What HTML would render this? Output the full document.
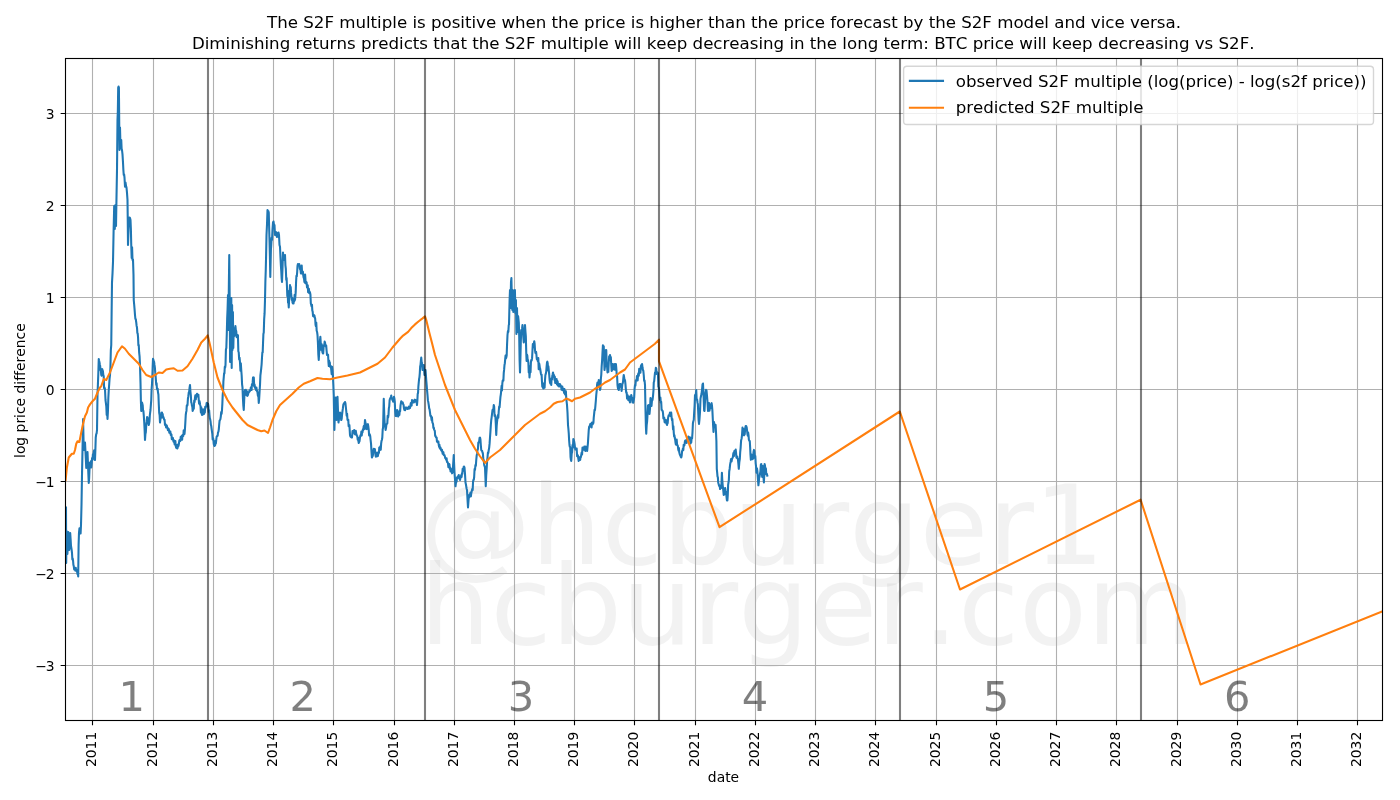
<!DOCTYPE html>
<html><head><meta charset="utf-8"><title>S2F multiple</title><style>html,body{margin:0;padding:0;background:#fff;width:1400px;height:800px;overflow:hidden}svg{display:block}text{font-kerning:none;font-feature-settings:"kern" 0,"liga" 0}</style></head><body>
<svg width="1400" height="800" viewBox="0 0 1400 800">
<defs><clipPath id="c"><rect x="65.50" y="58.50" width="1317.00" height="662.00"/></clipPath></defs>
<rect width="1400" height="800" fill="#fff"/>
<g clip-path="url(#c)" style="font-family:'DejaVu Sans','Liberation Sans',sans-serif;font-size:111.11px" fill="#808080" fill-opacity="0.1">
<text x="420.00" y="564.00">@hcburger1</text>
<text x="420.00" y="644.40">hcburger.com</text>
</g>
<path d="M92.50 58.50V720.50M153.50 58.50V720.50M213.50 58.50V720.50M273.50 58.50V720.50M333.50 58.50V720.50M394.50 58.50V720.50M454.50 58.50V720.50M514.50 58.50V720.50M574.50 58.50V720.50M634.50 58.50V720.50M695.50 58.50V720.50M755.50 58.50V720.50M815.50 58.50V720.50M875.50 58.50V720.50M936.50 58.50V720.50M996.50 58.50V720.50M1056.50 58.50V720.50M1116.50 58.50V720.50M1177.50 58.50V720.50M1237.50 58.50V720.50M1297.50 58.50V720.50M1357.50 58.50V720.50M65.50 665.50H1382.50M65.50 573.50H1382.50M65.50 481.50H1382.50M65.50 389.50H1382.50M65.50 297.50H1382.50M65.50 205.50H1382.50M65.50 113.50H1382.50" stroke="#b0b0b0" stroke-width="1.11" fill="none"/>
<g clip-path="url(#c)" fill="none" stroke-width="2.08" stroke-linejoin="round" stroke-linecap="square">
<polyline points="66.00,507.50 66.20,563.00 66.60,531.00 67.00,542.69 67.40,554.00 67.85,545.50 68.30,532.00 68.75,539.14 69.20,550.00 69.70,543.48 70.20,533.00 70.60,538.98 71.00,546.00 71.50,548.98 72.00,553.00 72.35,559.40 72.70,558.52 73.05,560.71 73.40,564.86 73.75,566.00 74.17,569.39 74.58,568.20 75.00,569.40 75.38,570.73 75.75,567.75 76.12,569.12 76.50,570.00 77.00,571.12 77.50,574.00 77.85,572.59 78.20,576.50 78.60,545.00 79.00,532.50 79.50,528.23 80.00,530.00 80.60,533.50 81.00,525.00 81.50,505.00 82.00,475.00 82.50,450.00 83.10,419.00 83.75,450.00 84.17,443.92 84.58,444.47 85.00,442.50 85.42,450.62 85.83,458.80 86.25,468.00 86.67,462.82 87.08,454.40 87.50,452.00 87.92,462.16 88.33,473.19 88.75,483.00 89.17,477.82 89.58,467.47 90.00,462.50 90.42,463.29 90.83,461.43 91.25,467.50 91.67,463.89 92.08,458.10 92.50,460.00 92.92,454.21 93.33,457.09 93.75,452.00 94.17,450.27 94.58,459.09 95.00,460.00 95.38,449.47 95.75,437.50 96.17,434.31 96.58,433.51 97.00,430.00 97.50,395.00 97.92,384.16 98.33,373.30 98.75,359.00 99.11,360.78 99.46,362.27 99.82,364.53 100.18,365.97 100.54,370.33 100.89,370.99 101.25,375.00 101.67,375.68 102.08,369.00 102.50,370.00 102.90,371.09 103.30,374.90 103.70,376.10 104.10,388.19 104.50,387.50 105.00,389.35 105.50,400.00 105.90,403.18 106.30,406.44 106.70,415.04 107.10,410.83 107.50,419.00 107.92,411.69 108.33,398.06 108.75,390.00 109.17,384.66 109.58,378.52 110.00,375.00 110.42,367.56 110.83,350.45 111.25,345.00 111.62,313.43 112.00,282.50 112.50,273.66 113.00,262.00 113.60,231.00 114.20,206.00 114.80,229.00 115.40,205.00 116.00,226.00 116.50,197.00 117.00,170.00 117.50,120.00 117.85,111.11 118.20,87.50 118.55,86.50 118.90,87.50 119.25,125.00 119.50,150.00 120.00,127.50 120.38,142.35 120.75,145.00 121.25,140.00 121.62,148.79 122.00,150.00 122.50,154.32 123.00,162.50 123.38,169.97 123.75,175.00 124.12,174.39 124.50,177.50 125.00,186.59 125.50,182.50 126.00,185.84 126.50,187.50 127.00,192.89 127.50,200.00 127.75,220.00 128.00,245.00 128.38,234.09 128.75,225.00 129.12,220.45 129.50,217.50 130.00,218.04 130.50,220.00 130.88,228.98 131.25,245.00 131.67,258.00 132.08,247.36 132.50,260.00 133.00,259.50 133.50,275.00 133.75,300.00 134.17,304.51 134.58,309.41 135.00,315.00 135.40,318.99 135.80,319.18 136.20,322.20 136.60,325.66 137.00,327.50 137.35,332.94 137.70,333.60 138.05,337.25 138.40,345.38 138.75,345.00 139.17,352.73 139.58,356.36 140.00,365.00 140.50,382.50 140.88,400.75 141.25,411.00 141.62,408.30 142.00,402.50 142.35,403.82 142.70,405.15 143.05,410.60 143.40,410.84 143.75,415.00 144.17,421.22 144.58,429.07 145.00,440.00 145.42,433.99 145.83,432.22 146.25,425.00 146.67,421.63 147.08,417.10 147.50,417.50 147.92,421.34 148.33,422.63 148.75,425.00 149.10,423.69 149.45,421.40 149.80,415.66 150.15,412.71 150.50,410.00 150.88,404.91 151.25,400.00 151.60,389.48 151.95,384.84 152.30,377.99 152.65,367.35 153.00,358.75 153.38,359.84 153.75,361.36 154.12,361.88 154.50,365.00 154.85,367.39 155.20,372.20 155.55,375.32 155.90,380.13 156.25,385.00 156.60,383.35 156.95,388.70 157.30,389.60 157.65,388.69 158.00,392.50 158.40,394.50 158.80,404.48 159.20,412.71 159.60,415.03 160.00,422.50 160.40,419.53 160.80,417.36 161.20,417.81 161.60,412.67 162.00,412.50 162.35,415.57 162.70,414.09 163.05,417.65 163.40,416.97 163.75,418.00 164.17,419.87 164.58,419.71 165.00,425.00 165.36,423.98 165.71,425.19 166.07,427.39 166.43,426.92 166.79,425.39 167.14,427.96 167.50,427.50 167.86,430.19 168.21,428.63 168.57,428.76 168.93,429.57 169.29,432.69 169.64,432.86 170.00,432.50 170.36,431.50 170.71,434.96 171.07,434.11 171.43,434.43 171.79,439.26 172.14,439.29 172.50,438.50 172.86,437.80 173.21,440.16 173.57,441.75 173.93,440.22 174.29,442.01 174.64,444.33 175.00,443.75 175.37,440.96 175.73,445.99 176.10,447.60 176.47,447.93 176.83,445.03 177.20,448.50 177.55,448.07 177.90,444.65 178.25,446.45 178.60,445.46 178.95,443.62 179.30,440.59 179.65,439.88 180.00,440.00 180.36,440.99 180.71,436.77 181.07,438.85 181.43,438.17 181.79,435.87 182.14,439.71 182.50,435.00 182.90,434.94 183.30,436.00 183.70,430.40 184.10,430.20 184.50,434.00 184.92,429.63 185.33,422.61 185.75,415.00 186.10,412.38 186.45,410.89 186.80,405.19 187.15,405.74 187.50,405.00 187.92,398.77 188.33,396.22 188.75,392.50 189.17,391.77 189.58,387.61 190.00,385.00 190.42,391.58 190.83,395.27 191.25,402.50 191.60,403.13 191.95,405.72 192.30,406.44 192.65,411.00 193.00,410.00 193.40,405.75 193.80,408.78 194.20,400.54 194.60,402.12 195.00,397.50 195.40,395.20 195.80,399.30 196.20,395.52 196.60,395.30 197.00,393.75 197.35,396.49 197.70,394.98 198.05,395.42 198.40,394.75 198.75,400.00 199.10,403.69 199.45,401.11 199.80,402.57 200.15,404.94 200.50,406.25 200.88,412.42 201.25,407.17 201.62,413.31 202.00,415.00 202.36,413.49 202.71,414.64 203.07,409.26 203.43,411.35 203.79,413.11 204.14,413.83 204.50,410.00 204.85,412.44 205.20,406.79 205.55,407.86 205.90,406.78 206.25,406.25 206.60,403.00 206.95,402.75 207.30,406.26 207.65,404.74 208.00,403.75 208.38,406.28 208.75,411.81 209.12,410.18 209.50,415.00 209.85,418.25 210.20,419.42 210.55,421.48 210.90,424.78 211.25,426.00 211.60,428.75 211.95,431.33 212.30,433.73 212.65,439.48 213.00,438.00 213.38,439.38 213.75,444.02 214.12,445.22 214.50,446.00 214.85,444.10 215.20,445.19 215.55,440.68 215.90,443.52 216.25,440.00 216.60,436.88 216.95,436.02 217.30,436.15 217.65,435.66 218.00,432.50 218.40,431.81 218.80,429.29 219.20,424.59 219.60,420.59 220.00,420.00 220.40,419.10 220.80,416.60 221.20,412.09 221.60,413.95 222.00,410.00 222.35,403.90 222.70,395.08 223.05,391.38 223.40,381.35 223.75,377.50 224.10,373.25 224.45,373.30 224.80,366.88 225.15,367.65 225.50,365.00 225.92,349.60 226.33,347.95 226.75,335.00 227.17,318.76 227.58,309.06 228.00,295.00 228.40,330.00 228.80,290.00 229.25,255.00 229.70,300.00 230.10,362.00 230.50,300.00 230.90,345.00 231.30,298.00 231.70,368.00 232.10,305.00 232.50,350.00 232.90,312.00 233.30,348.00 233.75,328.00 234.40,336.00 235.00,332.50 235.42,326.07 235.83,330.29 236.25,331.25 236.67,337.12 237.08,337.25 237.50,337.50 237.92,335.15 238.33,351.20 238.75,352.50 239.17,359.40 239.58,357.66 240.00,362.50 240.42,370.67 240.83,363.26 241.25,370.00 241.67,375.49 242.08,384.34 242.50,387.50 242.92,398.14 243.33,405.57 243.75,410.00 244.17,400.71 244.58,392.39 245.00,390.00 245.42,392.61 245.83,389.90 246.25,395.00 246.61,394.33 246.96,391.21 247.32,396.00 247.68,395.50 248.04,394.55 248.39,392.90 248.75,392.50 249.11,391.90 249.46,390.36 249.82,391.28 250.18,390.24 250.54,390.03 250.89,387.19 251.25,387.50 251.60,390.06 251.95,384.18 252.30,384.85 252.65,382.69 253.00,377.50 253.40,377.39 253.80,377.45 254.20,386.52 254.60,384.57 255.00,387.50 255.36,388.41 255.71,388.31 256.07,389.96 256.43,387.50 256.79,390.82 257.14,390.67 257.50,392.50 257.92,395.96 258.33,394.70 258.75,403.00 259.17,398.97 259.58,391.80 260.00,385.00 260.40,375.36 260.80,372.24 261.20,368.57 261.60,364.51 262.00,357.50 262.35,352.50 262.70,352.34 263.05,342.58 263.40,334.00 263.75,332.50 264.17,319.30 264.58,313.44 265.00,300.00 265.38,281.60 265.75,270.44 266.12,254.82 266.50,235.00 267.00,224.56 267.50,210.00 267.92,214.39 268.33,211.06 268.75,212.50 269.12,226.22 269.50,240.00 269.90,256.43 270.30,277.00 270.90,250.00 271.27,244.53 271.63,237.86 272.00,240.00 272.50,229.31 273.00,222.50 273.50,221.50 274.00,225.00 274.50,225.00 275.00,235.00 275.38,234.81 275.75,235.11 276.12,232.10 276.50,232.50 276.88,236.92 277.25,235.95 277.62,236.57 278.00,233.75 278.50,232.56 279.00,235.00 279.50,245.00 280.00,246.77 280.50,257.50 280.88,265.30 281.25,270.67 281.62,278.05 282.00,282.00 282.50,268.50 283.00,252.50 283.50,260.03 284.00,260.00 284.50,256.64 285.00,255.00 285.42,265.34 285.83,268.98 286.25,280.00 286.61,277.93 286.96,286.52 287.32,296.28 287.68,290.69 288.04,302.69 288.39,301.53 288.75,307.50 289.17,298.80 289.58,292.63 290.00,285.00 290.36,288.14 290.71,287.08 291.07,292.88 291.43,296.33 291.79,300.00 292.14,297.74 292.50,302.50 292.86,303.50 293.21,303.50 293.57,303.50 293.93,299.00 294.29,301.23 294.64,294.78 295.00,300.00 295.36,296.28 295.71,291.95 296.07,281.98 296.43,275.81 296.79,276.28 297.14,272.74 297.50,266.00 297.92,264.00 298.33,264.55 298.75,265.00 299.10,264.00 299.45,264.88 299.80,268.44 300.15,269.46 300.50,270.00 300.90,273.50 301.30,267.58 301.70,265.50 302.10,273.36 302.50,272.50 302.88,271.73 303.25,275.36 303.62,277.66 304.00,278.30 304.38,281.83 304.75,282.56 305.12,274.51 305.50,280.31 305.88,283.50 306.25,282.50 306.62,282.28 307.00,287.40 307.38,285.33 307.75,285.24 308.12,292.25 308.50,291.63 308.88,288.77 309.25,293.22 309.62,291.50 310.00,292.50 310.42,294.49 310.83,303.54 311.25,305.00 311.61,306.55 311.96,304.67 312.32,310.64 312.68,311.70 313.04,316.00 313.39,316.44 313.75,315.00 314.11,315.24 314.46,315.69 314.82,317.80 315.18,318.60 315.54,324.74 315.89,326.19 316.25,322.50 316.67,330.74 317.08,331.97 317.50,335.00 317.92,342.60 318.33,354.38 318.75,360.00 319.17,352.29 319.58,347.38 320.00,340.00 320.36,336.79 320.71,342.30 321.07,349.68 321.43,344.06 321.79,344.45 322.14,350.22 322.50,352.50 322.86,353.50 323.21,353.50 323.57,347.14 323.93,345.35 324.29,345.03 324.64,341.50 325.00,342.50 325.40,345.11 325.80,346.60 326.20,345.57 326.60,350.76 327.00,355.00 327.36,355.30 327.71,354.56 328.07,354.86 328.43,362.00 328.79,366.04 329.14,360.57 329.50,362.50 329.85,362.73 330.20,367.01 330.55,366.31 330.90,366.15 331.25,370.00 331.67,374.18 332.08,366.88 332.50,370.00 332.92,376.14 333.33,384.67 333.75,395.00 334.40,430.00 334.80,416.51 335.20,407.62 335.60,397.50 336.05,410.48 336.50,420.00 337.00,412.77 337.50,396.90 338.00,411.69 338.50,422.50 338.88,420.11 339.25,413.75 339.62,414.82 340.00,412.50 340.42,413.12 340.83,417.30 341.25,420.00 341.67,418.96 342.08,414.41 342.50,411.00 342.92,408.16 343.33,404.66 343.75,403.75 344.17,403.12 344.58,402.80 345.00,402.00 345.42,403.14 345.83,406.99 346.25,411.00 346.67,415.76 347.08,413.68 347.50,420.00 347.88,420.11 348.26,419.67 348.64,426.09 349.02,425.21 349.40,425.00 350.00,435.00 350.40,436.53 350.80,436.79 351.20,437.07 351.60,437.58 352.00,437.50 352.50,431.08 353.00,431.00 353.40,431.82 353.80,432.79 354.20,430.00 354.60,433.85 355.00,432.50 355.40,434.53 355.80,430.86 356.20,433.66 356.60,434.69 357.00,436.00 357.35,436.35 357.70,439.58 358.05,437.65 358.40,441.15 358.75,443.00 359.12,441.85 359.49,441.25 359.86,438.30 360.23,436.12 360.60,435.00 360.98,435.88 361.36,431.50 361.74,435.37 362.12,432.38 362.50,432.50 362.88,429.30 363.26,430.24 363.64,426.73 364.02,425.70 364.40,429.00 365.00,420.00 365.42,422.35 365.83,424.44 366.25,429.00 366.67,429.13 367.08,424.56 367.50,425.00 367.92,424.08 368.33,426.42 368.75,430.00 369.12,435.43 369.49,434.05 369.86,434.78 370.23,436.02 370.60,440.00 371.03,443.64 371.47,451.34 371.90,457.50 372.27,456.60 372.64,456.30 373.01,454.54 373.38,451.04 373.75,448.75 374.12,448.88 374.49,449.93 374.86,449.10 375.23,452.51 375.60,456.00 375.98,456.64 376.36,454.92 376.74,456.14 377.12,452.50 377.50,455.00 377.86,456.08 378.21,454.16 378.57,452.94 378.93,452.94 379.29,447.43 379.64,449.60 380.00,450.00 380.38,446.21 380.76,449.62 381.14,443.63 381.52,440.99 381.90,440.00 382.30,437.54 382.70,429.56 383.10,427.50 383.75,398.75 384.25,414.72 384.75,425.00 385.18,426.09 385.60,430.00 386.03,427.88 386.47,424.17 386.90,424.00 387.30,423.45 387.70,415.67 388.10,417.50 388.48,415.13 388.86,408.36 389.24,406.35 389.62,400.20 390.00,398.75 390.42,398.16 390.83,397.02 391.25,395.60 391.62,397.88 392.00,398.43 392.38,400.15 392.75,400.00 393.16,401.67 393.57,398.60 393.99,396.70 394.40,398.75 394.80,401.94 395.20,411.61 395.60,416.00 395.98,414.25 396.36,416.10 396.74,413.09 397.12,409.98 397.50,411.00 397.88,413.61 398.26,416.49 398.64,413.04 399.02,412.32 399.40,415.00 399.77,410.56 400.14,411.28 400.51,405.58 400.88,403.19 401.25,401.25 401.62,403.17 401.99,402.37 402.36,403.13 402.73,402.36 403.10,404.00 403.53,404.72 403.97,408.33 404.40,410.00 404.77,409.81 405.14,410.18 405.51,407.50 405.88,408.69 406.25,407.50 406.62,408.50 407.00,407.77 407.38,408.79 407.75,409.00 408.12,408.15 408.50,407.96 408.88,406.50 409.25,408.56 409.62,407.76 410.00,408.00 410.40,405.78 410.80,403.15 411.20,404.35 411.60,405.60 412.00,400.00 412.35,401.37 412.70,401.17 413.05,402.37 413.40,400.82 413.75,402.50 414.10,402.19 414.45,400.18 414.80,399.72 415.15,400.96 415.50,400.00 415.88,401.71 416.25,402.28 416.62,402.16 417.00,405.00 417.35,401.03 417.70,393.82 418.05,393.04 418.40,386.31 418.75,382.50 419.10,379.00 419.45,377.07 419.80,373.11 420.15,366.56 420.50,365.00 420.88,360.88 421.25,357.50 421.67,362.22 422.08,364.20 422.50,370.00 422.92,365.33 423.33,366.56 423.75,365.00 424.12,369.93 424.50,375.00 425.00,373.14 425.50,370.00 425.88,375.12 426.25,380.00 426.67,385.20 427.08,390.36 427.50,395.00 427.92,400.40 428.33,402.39 428.75,405.00 429.17,408.31 429.58,409.41 430.00,412.50 430.42,415.85 430.83,415.55 431.25,417.50 431.61,420.04 431.96,417.36 432.32,422.15 432.68,423.07 433.04,423.95 433.39,428.00 433.75,427.50 434.11,429.54 434.46,430.15 434.82,431.00 435.18,436.03 435.54,435.76 435.89,437.06 436.25,437.50 436.61,437.43 436.96,441.60 437.32,441.55 437.68,441.38 438.04,442.70 438.39,441.49 438.75,445.00 439.11,446.69 439.46,444.79 439.82,448.41 440.18,447.20 440.54,447.64 440.89,449.84 441.25,450.00 441.61,451.03 441.96,449.74 442.32,452.03 442.68,453.77 443.04,453.20 443.39,452.27 443.75,455.00 444.11,455.35 444.46,454.99 444.82,456.28 445.18,457.93 445.54,458.49 445.89,458.97 446.25,460.00 446.61,458.24 446.96,461.95 447.32,461.84 447.68,462.25 448.04,463.80 448.39,467.17 448.75,465.00 449.11,463.97 449.46,464.38 449.82,468.82 450.18,467.39 450.54,471.41 450.89,468.89 451.25,471.25 451.67,470.94 452.08,473.33 452.50,472.50 452.92,468.03 453.33,461.50 453.75,455.00 454.12,464.43 454.50,472.50 455.00,479.18 455.50,486.25 455.88,483.40 456.25,481.57 456.62,481.58 457.00,477.50 457.35,478.06 457.70,476.53 458.05,476.47 458.40,476.74 458.75,475.00 459.17,478.43 459.58,478.14 460.00,480.00 460.42,478.22 460.83,477.16 461.25,475.00 461.60,477.00 461.95,473.36 462.30,473.89 462.65,468.71 463.00,470.00 463.38,470.64 463.75,466.65 464.12,466.51 464.50,467.50 465.00,474.06 465.50,482.50 465.88,484.16 466.25,486.52 466.62,488.67 467.00,490.00 467.50,499.08 468.00,507.50 468.50,500.60 469.00,495.00 469.38,497.38 469.75,494.34 470.12,494.58 470.50,492.50 470.88,496.27 471.25,493.36 471.62,491.89 472.00,490.00 472.35,488.70 472.70,490.08 473.05,481.64 473.40,479.91 473.75,480.00 474.17,476.99 474.58,468.93 475.00,470.00 475.42,464.97 475.83,465.80 476.25,460.00 476.67,455.66 477.08,453.69 477.50,450.00 477.92,449.01 478.33,442.46 478.75,442.50 479.17,441.43 479.58,437.79 480.00,437.50 480.42,439.28 480.83,445.23 481.25,450.00 481.67,450.71 482.08,450.79 482.50,452.50 482.92,453.56 483.33,459.58 483.75,460.00 484.17,465.01 484.58,466.21 485.00,467.50 485.38,476.66 485.75,486.25 486.25,474.58 486.75,467.50 487.12,460.71 487.50,457.50 487.92,452.59 488.33,452.96 488.75,450.00 489.17,447.83 489.58,443.65 490.00,437.50 490.42,431.61 490.83,425.00 491.25,420.00 491.67,417.06 492.08,413.60 492.50,410.00 492.92,409.63 493.33,409.88 493.75,405.00 494.17,406.84 494.58,416.07 495.00,415.00 495.42,417.27 495.83,424.45 496.25,435.00 496.67,426.03 497.08,421.43 497.50,418.00 497.92,415.16 498.33,417.73 498.75,411.00 499.17,406.48 499.58,407.41 500.00,402.00 500.42,397.21 500.83,394.33 501.25,390.00 501.60,385.78 501.95,390.40 502.30,383.92 502.65,380.66 503.00,380.00 503.38,380.65 503.75,372.89 504.12,369.66 504.50,365.00 504.85,363.18 505.20,359.12 505.55,355.54 505.90,358.39 506.25,357.50 506.67,355.60 507.08,343.96 507.50,335.00 507.92,331.06 508.33,332.01 508.75,325.00 509.00,325.00 509.60,300.00 510.00,290.00 510.50,308.00 511.00,282.00 511.40,278.00 511.90,300.00 512.30,310.00 512.80,290.00 513.30,312.00 513.80,296.00 514.40,311.00 514.90,290.00 515.40,313.00 515.90,300.00 516.40,334.00 517.00,308.00 517.50,332.00 518.10,316.00 518.80,322.50 519.20,335.93 519.60,360.60 520.00,372.50 520.42,358.28 520.83,341.29 521.25,330.00 521.67,330.68 522.08,328.45 522.50,325.00 522.92,329.64 523.33,337.41 523.75,342.50 524.17,340.06 524.58,335.71 525.00,325.00 525.42,331.23 525.83,336.33 526.25,352.50 526.60,361.00 526.95,354.59 527.30,355.55 527.65,359.99 528.00,360.00 528.38,362.89 528.75,372.36 529.12,368.81 529.50,377.50 529.85,373.29 530.20,366.14 530.55,372.29 530.90,362.64 531.25,360.00 531.67,360.48 532.08,358.14 532.50,350.00 532.85,344.11 533.20,345.73 533.55,347.24 533.90,343.17 534.25,341.25 534.62,343.60 535.00,349.79 535.38,352.85 535.75,352.50 536.10,351.95 536.45,355.03 536.80,359.25 537.15,359.23 537.50,360.00 537.90,361.49 538.30,358.11 538.70,369.09 539.10,363.20 539.50,365.00 539.85,367.93 540.20,368.88 540.55,371.23 540.90,373.52 541.25,375.00 541.60,374.60 541.95,381.31 542.30,386.67 542.65,386.39 543.00,387.50 543.40,388.50 543.80,386.18 544.20,383.11 544.60,387.80 545.00,380.00 545.40,375.01 545.80,373.84 546.20,371.74 546.60,366.64 547.00,362.50 547.35,361.70 547.70,363.13 548.05,370.41 548.40,366.41 548.75,370.00 549.17,374.19 549.58,379.52 550.00,382.50 550.42,383.54 550.83,380.29 551.25,385.00 551.60,378.36 551.95,379.77 552.30,375.81 552.65,374.43 553.00,372.50 553.38,374.57 553.75,376.61 554.12,375.21 554.50,380.00 554.85,376.83 555.20,383.05 555.55,380.13 555.90,379.44 556.25,382.50 556.61,379.00 556.96,384.38 557.32,380.82 557.68,381.64 558.04,385.65 558.39,385.31 558.75,385.00 559.11,386.59 559.46,384.00 559.82,384.00 560.18,384.27 560.54,386.13 560.89,385.70 561.25,387.50 561.61,389.80 561.96,389.00 562.32,386.50 562.68,390.17 563.04,388.96 563.39,388.58 563.75,390.00 564.10,392.95 564.45,389.00 564.80,393.76 565.15,394.39 565.50,392.50 565.88,391.23 566.25,398.33 566.62,401.52 567.00,405.00 567.50,412.52 568.00,425.00 568.38,428.75 568.75,433.22 569.12,440.14 569.50,445.00 569.85,446.98 570.20,447.00 570.55,457.22 570.90,459.76 571.25,461.00 571.67,453.84 572.08,452.25 572.50,445.00 572.92,447.73 573.33,439.00 573.75,440.00 574.17,441.60 574.58,443.86 575.00,447.50 575.42,449.56 575.83,448.50 576.25,450.00 576.67,448.60 577.08,456.10 577.50,455.00 577.90,455.29 578.30,458.60 578.70,461.00 579.10,457.37 579.50,460.00 579.85,458.10 580.20,460.00 580.55,456.77 580.90,457.14 581.25,455.00 581.67,452.49 582.08,454.40 582.50,447.50 582.86,449.25 583.21,448.97 583.57,448.85 583.93,449.78 584.29,446.50 584.64,449.05 585.00,450.00 585.36,451.00 585.71,446.64 586.07,449.02 586.43,448.36 586.79,447.09 587.14,451.00 587.50,447.50 587.92,443.24 588.33,436.57 588.75,430.00 589.17,426.61 589.58,426.85 590.00,425.00 590.40,423.84 590.80,423.80 591.20,423.99 591.60,427.40 592.00,422.50 592.35,424.45 592.70,424.26 593.05,422.52 593.40,422.90 593.75,417.50 594.17,413.55 594.58,409.68 595.00,410.00 595.42,405.63 595.83,400.78 596.25,395.00 596.67,390.94 597.08,384.80 597.50,382.50 597.92,383.73 598.33,386.02 598.75,380.00 599.17,384.00 599.58,385.99 600.00,390.00 600.42,388.60 600.83,379.09 601.25,375.00 601.67,366.44 602.08,360.96 602.50,352.50 602.92,345.25 603.33,354.00 603.75,346.25 604.12,357.82 604.50,370.00 604.85,367.56 605.20,362.96 605.55,359.24 605.90,350.00 606.25,350.00 606.67,362.83 607.08,366.73 607.50,372.50 607.92,370.08 608.33,371.83 608.75,362.50 609.17,356.21 609.58,359.74 610.00,355.00 610.42,358.05 610.83,357.18 611.25,365.00 611.67,371.00 612.08,363.68 612.50,370.00 612.90,369.44 613.30,367.76 613.70,367.57 614.10,364.00 614.50,365.00 614.85,369.61 615.20,366.78 615.55,364.00 615.90,364.00 616.25,367.50 616.67,374.17 617.08,375.70 617.50,385.00 617.92,387.98 618.33,389.33 618.75,390.00 619.17,386.59 619.58,384.00 620.00,385.00 620.40,384.00 620.80,386.80 621.20,385.37 621.60,391.00 622.00,387.50 622.35,384.04 622.70,383.35 623.05,381.50 623.40,377.71 623.75,375.00 624.17,377.36 624.58,380.57 625.00,380.00 625.42,383.86 625.83,389.09 626.25,392.50 626.67,392.55 627.08,398.57 627.50,395.00 627.92,397.05 628.33,400.19 628.75,400.00 629.17,396.43 629.58,400.61 630.00,402.50 630.42,397.53 630.83,397.60 631.25,395.00 631.67,396.54 632.08,397.70 632.50,402.50 632.92,401.07 633.33,402.64 633.75,400.00 634.17,397.37 634.58,388.84 635.00,385.00 635.42,385.68 635.83,380.32 636.25,380.00 636.60,380.37 636.95,376.12 637.30,379.32 637.65,380.40 638.00,375.00 638.40,373.37 638.80,375.71 639.20,368.82 639.60,369.62 640.00,370.00 640.42,372.73 640.83,366.53 641.25,365.00 641.67,366.95 642.08,364.00 642.50,367.50 642.92,369.98 643.33,370.79 643.75,375.00 644.17,381.00 644.58,380.51 645.00,385.00 645.50,410.00 645.88,426.27 646.25,433.75 646.67,425.10 647.08,421.98 647.50,415.00 648.00,405.60 648.50,405.00 649.00,408.62 649.50,414.00 650.00,408.69 650.50,398.00 651.00,401.77 651.50,406.00 652.00,400.15 652.50,400.00 653.00,396.10 653.50,390.00 653.75,382.50 654.17,381.27 654.58,376.81 655.00,372.50 655.42,373.44 655.83,367.75 656.25,368.75 656.67,374.02 657.08,372.82 657.50,372.50 657.92,373.10 658.33,386.63 658.75,387.50 659.17,390.64 659.58,396.97 660.00,400.00 660.40,397.65 660.80,402.62 661.20,401.99 661.60,409.86 662.00,410.00 662.35,411.00 662.70,410.98 663.05,413.68 663.40,418.48 663.75,417.50 664.17,417.46 664.58,422.09 665.00,422.50 665.40,420.40 665.80,419.84 666.20,422.93 666.60,423.87 667.00,425.00 667.35,423.40 667.70,423.08 668.05,418.09 668.40,416.20 668.75,415.00 669.17,415.85 669.58,414.28 670.00,412.50 670.40,413.89 670.80,416.03 671.20,412.60 671.60,417.30 672.00,420.00 672.35,418.99 672.70,424.23 673.05,429.48 673.40,426.30 673.75,432.50 674.10,436.53 674.45,435.27 674.80,438.04 675.15,439.48 675.50,442.50 675.90,444.56 676.30,442.03 676.70,439.60 677.10,445.21 677.50,445.00 677.86,446.10 678.21,449.25 678.57,450.61 678.93,448.05 679.29,452.59 679.64,453.84 680.00,455.00 680.42,455.67 680.83,456.88 681.25,457.50 681.67,455.69 682.08,451.28 682.50,450.00 682.90,448.67 683.30,450.16 683.70,444.67 684.10,445.83 684.50,445.00 684.85,441.77 685.20,440.66 685.55,441.08 685.90,441.39 686.25,440.00 686.61,442.99 686.96,438.84 687.32,440.98 687.68,439.76 688.04,438.37 688.39,436.50 688.75,437.50 689.11,438.49 689.46,439.05 689.82,437.36 690.18,440.73 690.54,443.50 690.89,438.56 691.25,442.50 691.67,437.74 692.08,438.38 692.50,432.50 692.92,423.29 693.33,421.27 693.75,420.00 694.17,412.50 694.58,406.00 695.00,395.00 695.42,396.74 695.83,393.78 696.25,390.00 696.67,399.77 697.08,399.42 697.50,402.50 697.88,404.26 698.25,412.71 698.62,420.38 699.00,424.00 699.50,419.04 700.00,412.00 700.50,398.58 701.00,396.00 701.50,394.08 702.00,390.00 702.50,384.53 703.00,383.50 703.40,392.19 703.80,402.00 704.15,410.59 704.50,411.00 705.00,401.54 705.50,393.00 706.00,389.90 706.50,390.50 707.00,395.92 707.50,402.00 708.00,411.00 708.50,405.20 709.00,403.00 709.50,410.60 710.00,407.00 710.40,408.31 710.80,407.56 711.20,404.00 711.60,403.09 712.00,406.00 712.40,410.71 712.80,419.00 713.15,426.22 713.50,432.00 713.85,421.90 714.20,423.00 714.70,426.87 715.20,425.00 715.60,424.92 716.00,432.00 716.40,441.00 716.80,468.80 717.15,472.47 717.50,476.46 717.85,477.18 718.20,482.50 718.67,484.28 719.13,486.04 719.60,485.30 720.07,489.00 720.53,488.04 721.00,488.00 721.45,484.81 721.90,472.90 722.30,480.22 722.70,485.30 723.20,489.64 723.70,494.90 724.17,494.67 724.63,489.05 725.10,488.00 725.55,490.47 726.00,492.20 726.47,496.43 726.93,500.41 727.40,500.40 727.77,495.10 728.13,484.96 728.50,482.50 728.85,480.11 729.20,471.50 729.67,468.71 730.13,464.39 730.60,461.90 731.07,459.03 731.53,461.42 732.00,459.10 732.43,458.07 732.87,457.07 733.30,453.60 733.65,452.62 734.00,455.93 734.35,450.95 734.70,450.90 735.20,451.18 735.70,449.50 736.07,452.75 736.43,457.58 736.80,457.80 737.17,456.58 737.53,457.95 737.90,459.10 738.35,463.43 738.80,468.80 739.30,462.36 739.80,459.10 740.20,452.03 740.60,448.10 741.10,440.41 741.60,438.50 742.05,434.80 742.50,427.50 742.87,432.91 743.23,428.81 743.60,433.00 743.97,435.31 744.33,431.17 744.70,434.40 745.20,428.30 745.70,426.10 746.20,426.04 746.70,427.50 747.07,430.56 747.43,434.12 747.80,435.80 748.17,432.54 748.53,435.38 748.90,439.90 749.35,440.79 749.80,441.30 750.15,447.56 750.50,455.00 750.87,459.80 751.23,454.33 751.60,455.00 752.10,455.49 752.60,459.10 753.05,458.59 753.50,452.30 753.95,449.90 754.40,450.90 754.90,457.80 755.30,456.07 755.70,463.30 756.00,466.00 756.47,472.63 756.93,468.17 757.40,471.50 757.90,478.56 758.40,485.30 758.77,482.08 759.13,477.63 759.50,477.00 759.95,473.90 760.40,471.50 760.85,464.59 761.30,464.00 761.75,472.79 762.20,477.00 762.90,466.00 763.40,476.09 763.90,482.50 764.25,474.87 764.60,464.00 765.00,465.55 765.40,471.50 765.85,468.26 766.30,474.30 766.80,473.78 767.30,475.60" stroke="#1f77b4"/>
<polyline points="65.60,480.00 66.90,467.50 68.75,457.50 70.00,456.00 71.90,453.75 73.75,453.75 75.00,450.00 76.25,443.75 77.50,441.25 79.40,442.00 81.25,432.50 83.10,423.75 85.00,416.25 86.90,412.50 88.10,407.50 90.00,404.40 92.50,401.25 95.00,398.75 97.50,392.50 100.00,387.50 101.25,386.25 103.75,379.00 106.25,380.00 110.00,372.50 113.75,362.50 117.50,352.50 122.00,346.25 125.00,348.75 128.75,353.75 133.75,358.75 138.75,363.75 142.50,370.00 146.25,375.00 151.25,377.00 155.00,375.00 158.75,372.50 162.50,373.00 166.25,369.50 170.00,368.75 173.75,368.25 177.50,370.75 182.50,370.50 187.50,366.25 192.50,358.75 197.50,350.00 201.25,342.50 205.00,338.75 207.70,335.30 210.00,345.00 213.75,362.50 217.50,377.50 222.50,390.00 227.50,400.00 232.50,407.50 237.50,413.75 242.50,420.00 247.50,425.00 252.50,427.50 257.50,430.00 261.25,431.25 264.50,430.50 268.00,433.00 270.00,427.50 272.50,420.00 276.25,411.25 280.00,405.00 285.00,400.50 292.50,393.75 298.75,387.50 303.75,383.75 310.00,381.25 317.50,378.00 322.50,378.75 330.00,379.25 337.50,377.50 347.50,375.50 360.00,372.50 370.00,367.50 377.50,363.75 385.00,357.50 392.50,347.50 400.00,338.75 403.10,335.60 408.10,331.90 411.25,328.10 415.00,324.40 418.75,321.25 422.50,318.40 425.00,316.40 426.25,320.00 429.40,333.10 432.00,343.00 435.00,355.00 440.00,370.00 445.00,385.00 450.00,397.50 455.00,410.00 460.00,420.00 465.00,430.00 470.00,440.00 475.00,448.75 480.00,456.25 485.00,463.00 490.00,457.50 495.00,453.75 500.00,450.00 505.00,445.00 510.00,440.00 515.00,435.00 520.00,430.00 525.00,425.00 530.00,421.25 535.00,417.50 540.00,413.75 545.00,411.25 550.00,407.50 553.75,403.75 557.50,402.00 562.50,401.25 566.25,398.50 568.75,399.50 572.00,401.25 575.00,398.75 580.00,397.50 585.00,395.00 590.00,392.50 595.00,388.75 600.00,386.25 605.00,382.50 610.00,380.00 615.00,376.25 620.00,372.50 625.00,369.50 630.00,362.50 635.00,358.75 640.00,355.00 645.00,351.25 650.00,347.50 655.00,343.75 659.00,339.60 659.00,361.30 719.50,527.20 899.80,411.50 960.00,589.50 1140.60,499.70 1200.50,684.50 1390.00,608.20" stroke="#ff7f0e"/>
</g>
<path d="M208.00 58.50V720.50M425.00 58.50V720.50M659.00 58.50V720.50M900.00 58.50V720.50M1141.00 58.50V720.50" stroke="#000" stroke-opacity="0.5" stroke-width="2.08" fill="none"/>
<g style="font-family:'DejaVu Sans','Liberation Sans',sans-serif;font-size:41.67px" fill="#000" fill-opacity="0.5" text-anchor="middle">
<text x="131.65" y="710.90">1</text>
<text x="302.65" y="710.90">2</text>
<text x="521.10" y="710.90">3</text>
<text x="755.05" y="710.90">4</text>
<text x="996.05" y="710.90">5</text>
<text x="1237.35" y="710.90">6</text>
</g>
<rect x="65.50" y="58.50" width="1317.00" height="662.00" fill="none" stroke="#000" stroke-width="1.11" stroke-linejoin="miter"/>
<path d="M92.50 720.50v4.86M153.50 720.50v4.86M213.50 720.50v4.86M273.50 720.50v4.86M333.50 720.50v4.86M394.50 720.50v4.86M454.50 720.50v4.86M514.50 720.50v4.86M574.50 720.50v4.86M634.50 720.50v4.86M695.50 720.50v4.86M755.50 720.50v4.86M815.50 720.50v4.86M875.50 720.50v4.86M936.50 720.50v4.86M996.50 720.50v4.86M1056.50 720.50v4.86M1116.50 720.50v4.86M1177.50 720.50v4.86M1237.50 720.50v4.86M1297.50 720.50v4.86M1357.50 720.50v4.86M65.50 665.50h-4.86M65.50 573.50h-4.86M65.50 481.50h-4.86M65.50 389.50h-4.86M65.50 297.50h-4.86M65.50 205.50h-4.86M65.50 113.50h-4.86" stroke="#000" stroke-width="1.11"/>
<g style="font-family:'DejaVu Sans','Liberation Sans',sans-serif;font-size:13.89px" fill="#000">
<text transform="translate(96.33 767.07) rotate(-90)">2011</text>
<text transform="translate(157.33 767.07) rotate(-90)">2012</text>
<text transform="translate(217.33 767.07) rotate(-90)">2013</text>
<text transform="translate(277.33 767.07) rotate(-90)">2014</text>
<text transform="translate(337.33 767.07) rotate(-90)">2015</text>
<text transform="translate(398.33 767.07) rotate(-90)">2016</text>
<text transform="translate(458.33 767.07) rotate(-90)">2017</text>
<text transform="translate(518.33 767.07) rotate(-90)">2018</text>
<text transform="translate(578.33 767.07) rotate(-90)">2019</text>
<text transform="translate(638.33 767.07) rotate(-90)">2020</text>
<text transform="translate(699.33 767.07) rotate(-90)">2021</text>
<text transform="translate(759.33 767.07) rotate(-90)">2022</text>
<text transform="translate(819.33 767.07) rotate(-90)">2023</text>
<text transform="translate(879.33 767.07) rotate(-90)">2024</text>
<text transform="translate(940.33 767.07) rotate(-90)">2025</text>
<text transform="translate(1000.33 767.07) rotate(-90)">2026</text>
<text transform="translate(1060.33 767.07) rotate(-90)">2027</text>
<text transform="translate(1120.33 767.07) rotate(-90)">2028</text>
<text transform="translate(1181.33 767.07) rotate(-90)">2029</text>
<text transform="translate(1241.33 767.07) rotate(-90)">2030</text>
<text transform="translate(1301.33 767.07) rotate(-90)">2031</text>
<text transform="translate(1361.33 767.07) rotate(-90)">2032</text>
<text x="35.25" y="670.78" textLength="19.45" lengthAdjust="spacing">−3</text>
<text x="35.25" y="578.78" textLength="19.45" lengthAdjust="spacing">−2</text>
<text x="35.25" y="486.78" textLength="19.45" lengthAdjust="spacing">−1</text>
<text x="54.50" y="394.78" text-anchor="end">0</text>
<text x="54.50" y="302.78" text-anchor="end">1</text>
<text x="54.50" y="210.78" text-anchor="end">2</text>
<text x="54.50" y="118.78" text-anchor="end">3</text>
<text x="723.50" y="781.58" text-anchor="middle">date</text>
<text transform="translate(24.86 390.65) rotate(-90)" text-anchor="middle">log price difference</text>
</g>
<g style="font-family:'DejaVu Sans','Liberation Sans',sans-serif;font-size:16.67px" fill="#000" text-anchor="middle">
<text x="724.00" y="28.30" textLength="913.90" lengthAdjust="spacing">The S2F multiple is positive when the price is higher than the price forecast by the S2F model and vice versa.</text>
<text x="723.20" y="49.30" textLength="1062.60" lengthAdjust="spacing">Diminishing returns predicts that the S2F multiple will keep decreasing in the long term: BTC price will keep decreasing vs S2F.</text>
</g>
<rect x="903.60" y="66.30" width="469.90" height="58.20" rx="3.33" ry="3.33" fill="#fff" fill-opacity="0.8" stroke="#cccccc" stroke-opacity="0.8" stroke-width="1.39"/>
<path d="M909.90 80.90H943.00" stroke="#1f77b4" stroke-width="2.08" stroke-linecap="square"/>
<path d="M909.90 107.80H943.00" stroke="#ff7f0e" stroke-width="2.08" stroke-linecap="square"/>
<g style="font-family:'DejaVu Sans','Liberation Sans',sans-serif;font-size:16.67px" fill="#000">
<text x="955.70" y="86.60" textLength="410.80" lengthAdjust="spacing">observed S2F multiple (log(price) - log(s2f price))</text>
<text x="955.70" y="112.50" textLength="187.70" lengthAdjust="spacing">predicted S2F multiple</text>
</g>
</svg>
</body></html>
